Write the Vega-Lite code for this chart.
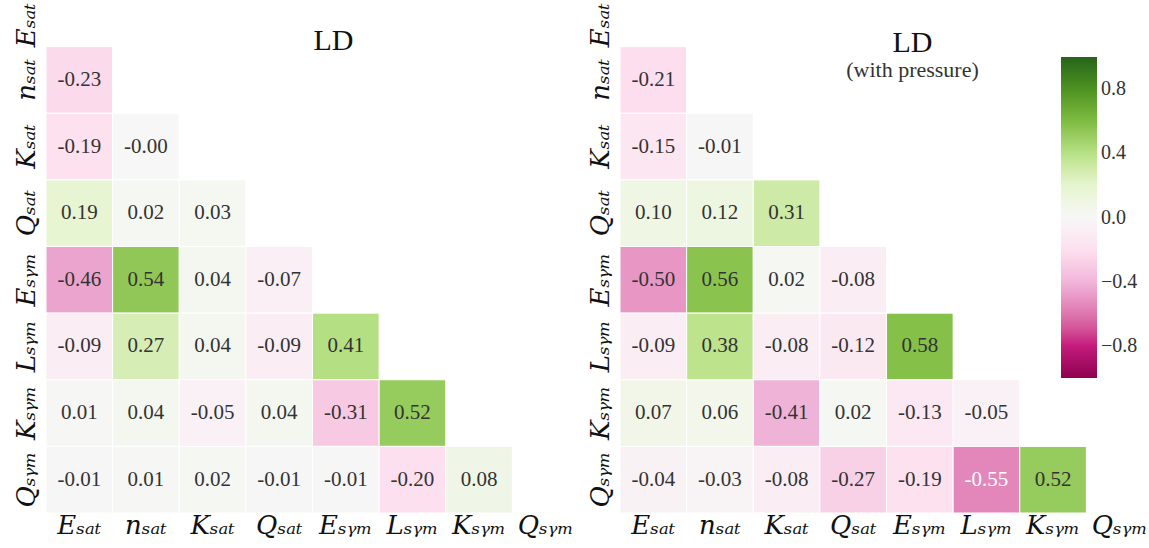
{
  "$schema": "https://vega.github.io/schema/vega-lite/v6.json",
  "autosize": {"type": "pad"},
  "padding": {"left": 13, "top": -20, "right": 0, "bottom": 0},
  "background": "white",
  "datasets": {
    "ld": [
      {"r": "n_sat", "c": "E_sat", "v": -0.23},
      {"r": "K_sat", "c": "E_sat", "v": -0.19}, {"r": "K_sat", "c": "n_sat", "v": -0.001},
      {"r": "Q_sat", "c": "E_sat", "v": 0.19}, {"r": "Q_sat", "c": "n_sat", "v": 0.02}, {"r": "Q_sat", "c": "K_sat", "v": 0.03},
      {"r": "E_sym", "c": "E_sat", "v": -0.46}, {"r": "E_sym", "c": "n_sat", "v": 0.54}, {"r": "E_sym", "c": "K_sat", "v": 0.04}, {"r": "E_sym", "c": "Q_sat", "v": -0.07},
      {"r": "L_sym", "c": "E_sat", "v": -0.09}, {"r": "L_sym", "c": "n_sat", "v": 0.27}, {"r": "L_sym", "c": "K_sat", "v": 0.04}, {"r": "L_sym", "c": "Q_sat", "v": -0.09}, {"r": "L_sym", "c": "E_sym", "v": 0.41},
      {"r": "K_sym", "c": "E_sat", "v": 0.01}, {"r": "K_sym", "c": "n_sat", "v": 0.04}, {"r": "K_sym", "c": "K_sat", "v": -0.05}, {"r": "K_sym", "c": "Q_sat", "v": 0.04}, {"r": "K_sym", "c": "E_sym", "v": -0.31}, {"r": "K_sym", "c": "L_sym", "v": 0.52},
      {"r": "Q_sym", "c": "E_sat", "v": -0.01}, {"r": "Q_sym", "c": "n_sat", "v": 0.01}, {"r": "Q_sym", "c": "K_sat", "v": 0.02}, {"r": "Q_sym", "c": "Q_sat", "v": -0.01}, {"r": "Q_sym", "c": "E_sym", "v": -0.01}, {"r": "Q_sym", "c": "L_sym", "v": -0.20}, {"r": "Q_sym", "c": "K_sym", "v": 0.08}
    ],
    "ldp": [
      {"r": "n_sat", "c": "E_sat", "v": -0.21},
      {"r": "K_sat", "c": "E_sat", "v": -0.15}, {"r": "K_sat", "c": "n_sat", "v": -0.01},
      {"r": "Q_sat", "c": "E_sat", "v": 0.10}, {"r": "Q_sat", "c": "n_sat", "v": 0.12}, {"r": "Q_sat", "c": "K_sat", "v": 0.31},
      {"r": "E_sym", "c": "E_sat", "v": -0.50}, {"r": "E_sym", "c": "n_sat", "v": 0.56}, {"r": "E_sym", "c": "K_sat", "v": 0.02}, {"r": "E_sym", "c": "Q_sat", "v": -0.08},
      {"r": "L_sym", "c": "E_sat", "v": -0.09}, {"r": "L_sym", "c": "n_sat", "v": 0.38}, {"r": "L_sym", "c": "K_sat", "v": -0.08}, {"r": "L_sym", "c": "Q_sat", "v": -0.12}, {"r": "L_sym", "c": "E_sym", "v": 0.58},
      {"r": "K_sym", "c": "E_sat", "v": 0.07}, {"r": "K_sym", "c": "n_sat", "v": 0.06}, {"r": "K_sym", "c": "K_sat", "v": -0.41}, {"r": "K_sym", "c": "Q_sat", "v": 0.02}, {"r": "K_sym", "c": "E_sym", "v": -0.13}, {"r": "K_sym", "c": "L_sym", "v": -0.05},
      {"r": "Q_sym", "c": "E_sat", "v": -0.04}, {"r": "Q_sym", "c": "n_sat", "v": -0.03}, {"r": "Q_sym", "c": "K_sat", "v": -0.08}, {"r": "Q_sym", "c": "Q_sat", "v": -0.27}, {"r": "Q_sym", "c": "E_sym", "v": -0.19}, {"r": "Q_sym", "c": "L_sym", "v": -0.55}, {"r": "Q_sym", "c": "K_sym", "v": 0.52}
    ]
  },
  "hconcat": [
    {
      "data": {"name": "ld"},
      "width": 533, "height": 533,
      "title": {"text": "LD", "dx": 21, "offset": -76, "fontSize": 30},
      "transform": [{"calculate": "(datum.v < 0 ? '-' : '') + format(abs(datum.v), '.2f')", "as": "lab"}],
      "encoding": {
        "x": {"field": "c", "type": "nominal", "scale": {"domain": ["E_sat","n_sat","K_sat","Q_sat","E_sym","L_sym","K_sym","Q_sym"], "paddingInner": 0, "paddingOuter": 0},
              "axis": {"title": null, "labelAngle": 0, "labelPadding": -1, "labelExpr": "{'E_sat':'Eₛₐₜ','n_sat':'nₛₐₜ','K_sat':'Kₛₐₜ','Q_sat':'Qₛₐₜ','E_sym':'Eₛᵧₘ','L_sym':'Lₛᵧₘ','K_sym':'Kₛᵧₘ','Q_sym':'Qₛᵧₘ'}[datum.value]"}},
        "y": {"field": "r", "type": "nominal", "scale": {"domain": ["E_sat","n_sat","K_sat","Q_sat","E_sym","L_sym","K_sym","Q_sym"], "paddingInner": 0, "paddingOuter": 0},
              "axis": {"title": null, "labelAngle": -90, "labelPadding": 7, "labelOffset": {"condition": {"test": "datum.value === 'E_sat'", "value": 12}, "value": 0}, "labelExpr": "{'E_sat':'Eₛₐₜ','n_sat':'nₛₐₜ','K_sat':'Kₛₐₜ','Q_sat':'Qₛₐₜ','E_sym':'Eₛᵧₘ','L_sym':'Lₛᵧₘ','K_sym':'Kₛᵧₘ','Q_sym':'Qₛᵧₘ'}[datum.value]"}}
      },
      "layer": [
        {"mark": {"type": "rect", "stroke": "white", "strokeWidth": 1},
         "encoding": {"color": {"field": "v", "type": "quantitative", "title": null,
            "scale": {"domain": [-1,-0.8,-0.6,-0.4,-0.2,0,0.2,0.4,0.6,0.8,1], "range": ["#8e0152","#c51b7d","#de77ae","#f1b6da","#fde0ef","#f7f7f7","#e6f5d0","#b8e186","#7fbc41","#4d9221","#276419"]},
            "legend": {"values": [0.8,0.4,0,-0.4,-0.8], "format": ".1f", "labelOffset": 4}}}},
        {"mark": {"type": "text", "fontSize": 21, "font": "Liberation Serif"},
         "encoding": {"text": {"field": "lab"}, "color": {"condition": {"test": "datum.v < -0.52", "value": "white"}, "value": "#333333"}}}
      ]
    },
    {
      "data": {"name": "ldp"},
      "width": 533, "height": 533,
      "title": {"text": "LD", "subtitle": "(with pressure)", "dx": 26, "offset": -101, "fontSize": 30, "subtitleFontSize": 22, "subtitlePadding": 2},
      "transform": [{"calculate": "(datum.v < 0 ? '-' : '') + format(abs(datum.v), '.2f')", "as": "lab"}],
      "encoding": {
        "x": {"field": "c", "type": "nominal", "scale": {"domain": ["E_sat","n_sat","K_sat","Q_sat","E_sym","L_sym","K_sym","Q_sym"], "paddingInner": 0, "paddingOuter": 0},
              "axis": {"title": null, "labelAngle": 0, "labelPadding": -1, "labelExpr": "{'E_sat':'Eₛₐₜ','n_sat':'nₛₐₜ','K_sat':'Kₛₐₜ','Q_sat':'Qₛₐₜ','E_sym':'Eₛᵧₘ','L_sym':'Lₛᵧₘ','K_sym':'Kₛᵧₘ','Q_sym':'Qₛᵧₘ'}[datum.value]"}},
        "y": {"field": "r", "type": "nominal", "scale": {"domain": ["E_sat","n_sat","K_sat","Q_sat","E_sym","L_sym","K_sym","Q_sym"], "paddingInner": 0, "paddingOuter": 0},
              "axis": {"title": null, "labelAngle": -90, "labelPadding": 7, "labelOffset": {"condition": {"test": "datum.value === 'E_sat'", "value": 12}, "value": 0}, "labelExpr": "{'E_sat':'Eₛₐₜ','n_sat':'nₛₐₜ','K_sat':'Kₛₐₜ','Q_sat':'Qₛₐₜ','E_sym':'Eₛᵧₘ','L_sym':'Lₛᵧₘ','K_sym':'Kₛᵧₘ','Q_sym':'Qₛᵧₘ'}[datum.value]"}}
      },
      "layer": [
        {"mark": {"type": "rect", "stroke": "white", "strokeWidth": 1},
         "encoding": {"color": {"field": "v", "type": "quantitative", "title": null,
            "scale": {"domain": [-1,-0.8,-0.6,-0.4,-0.2,0,0.2,0.4,0.6,0.8,1], "range": ["#8e0152","#c51b7d","#de77ae","#f1b6da","#fde0ef","#f7f7f7","#e6f5d0","#b8e186","#7fbc41","#4d9221","#276419"]},
            "legend": {"values": [0.8,0.4,0,-0.4,-0.8], "format": ".1f", "labelOffset": 4}}}},
        {"mark": {"type": "text", "fontSize": 21, "font": "Liberation Serif"},
         "encoding": {"text": {"field": "lab"}, "color": {"condition": {"test": "datum.v < -0.52", "value": "white"}, "value": "#333333"}}}
      ]
    }
  ],
  "spacing": 41,
  "bounds": "flush",
  "resolve": {"scale": {"color": "shared"}},
  "config": {
    "view": {"stroke": null},
    "font": "Liberation Serif",
    "title": {"font": "Liberation Serif", "fontWeight": "normal", "color": "#111111", "subtitleFont": "Liberation Serif", "subtitleColor": "#333333", "anchor": "middle"},
    "axis": {"domain": false, "ticks": false, "labelFont": "DejaVu Serif", "labelFontStyle": "italic", "labelFontSize": 26, "labelColor": "#111111", "grid": false},
    "legend": {"orient": "none", "legendX": 1015, "legendY": 77, "direction": "vertical", "gradientLength": 321, "gradientThickness": 36, "labelFont": "Liberation Serif", "labelFontSize": 20, "labelColor": "#333333", "gradientStrokeWidth": 0}
  }
}
